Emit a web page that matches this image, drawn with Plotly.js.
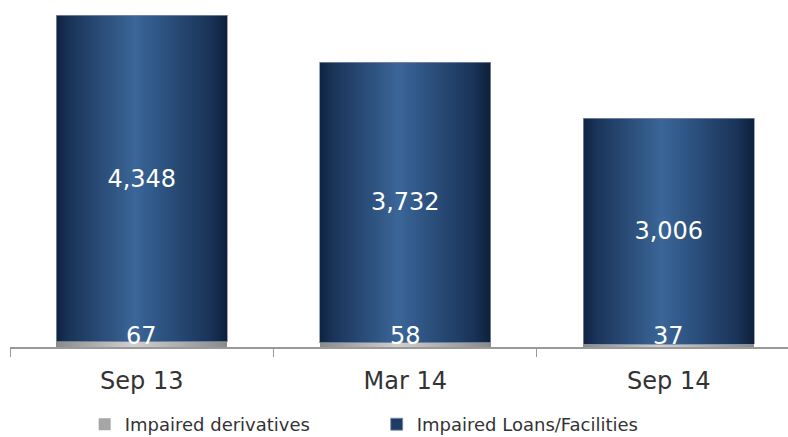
<!DOCTYPE html>
<html>
<head>
<meta charset="utf-8">
<script src="https://cdn.plot.ly/plotly-3.0.1.min.js"></script>
<style>html,body{margin:0;padding:0;background:#fff;}#chart{width:788px;height:437px;}</style>
</head>
<body>
<div id="chart"></div>
<script>
var categories = ["Sep 13", "Mar 14", "Sep 14"];
var derivatives = [67, 58, 37];
var loans = [4348, 3732, 3006];
var seriesNames = ["Impaired derivatives", "Impaired Loans/Facilities"];

function fmt(v){ return v.toLocaleString("en-US"); }

var traceDeriv = {
  type: "bar", name: seriesNames[0], x: categories, y: derivatives,
  marker: {color: "#a6a6a6"}, textposition: "none", hoverinfo: "skip"
};
var traceLoans = {
  type: "bar", name: seriesNames[1], x: categories, y: loans,
  text: loans.map(fmt), textposition: "inside", insidetextanchor: "middle",
  textangle: 0,
  textfont: {family: "DejaVu Sans", size: 24, color: "#ffffff"},
  marker: {color: "#1f3b66", line: {color: "#7f8fa8", width: 0.8}},
  hoverinfo: "skip"
};

var annotations = categories.map(function(c, i){
  return {x: c, y: 0, xref: "x", yref: "y", text: fmt(derivatives[i]),
    showarrow: false, yanchor: "middle", yshift: 11,
    font: {family: "DejaVu Sans", size: 24, color: "#ffffff"}};
});

var layout = {
  width: 788, height: 437,
  margin: {l: 10, r: 0, t: 0, b: 90, pad: 0, autoexpand: false},
  paper_bgcolor: "#ffffff", plot_bgcolor: "#ffffff",
  barmode: "stack", bargap: 0.35,
  font: {family: "DejaVu Sans", color: "#333333"},
  xaxis: {
    type: "category", range: [-0.5, 2.4526], tickson: "boundaries",
    ticks: "outside", ticklen: 8, tickcolor: "#999999", tickwidth: 1,
    showline: true, linecolor: "#999999", linewidth: 1.5,
    showgrid: false, zeroline: false, automargin: false,
    tickfont: {family: "DejaVu Sans", size: 24, color: "#333333"},
    ticklabelstandoff: 12
  },
  yaxis: {range: [0, 4615], visible: false, showgrid: false, zeroline: false, fixedrange: true},
  showlegend: true,
  legend: {orientation: "h", traceorder: "normal", x: 0.096, xanchor: "left", y: -0.17, yanchor: "top",
    font: {family: "DejaVu Sans", size: 18, color: "#333333"},
    entrywidth: 247, entrywidthmode: "pixels", bgcolor: "rgba(0,0,0,0)"},
  annotations: annotations,
  hovermode: false
};

Plotly.newPlot("chart", [traceDeriv, traceLoans], layout, {staticPlot: true, displayModeBar: false}).then(function(gd){
  var svg = gd.querySelector("svg.main-svg");
  var ns = "http://www.w3.org/2000/svg";
  var defs = svg.querySelector("defs") || svg.insertBefore(document.createElementNS(ns, "defs"), svg.firstChild);
  function grad(id, stops){
    var g = document.createElementNS(ns, "linearGradient");
    g.setAttribute("id", id); g.setAttribute("x1", "0"); g.setAttribute("x2", "1");
    g.setAttribute("y1", "0"); g.setAttribute("y2", "0");
    stops.forEach(function(s){
      var st = document.createElementNS(ns, "stop");
      st.setAttribute("offset", s[0]); st.setAttribute("stop-color", s[1]);
      g.appendChild(st);
    });
    defs.appendChild(g);
  }
  grad("gLoans", [[0, "#0f2240"], [0.08, "#1a3459"], [0.46, "#3b6698"], [0.56, "#325a8a"], [0.9, "#1a3358"], [1, "#0e1f3a"]]);
  grad("gDeriv", [[0, "#8a8a8a"], [0.45, "#d0d0d0"], [1, "#8a8a8a"]]);
  var traces = gd.querySelectorAll(".barlayer .trace");
  if (traces[0]) traces[0].querySelectorAll("path").forEach(function(p){ p.style.fill = "url(#gDeriv)"; });
  if (traces[1]) traces[1].querySelectorAll("path").forEach(function(p){ p.style.fill = "url(#gLoans)"; });
});
</script>
</body>
</html>
